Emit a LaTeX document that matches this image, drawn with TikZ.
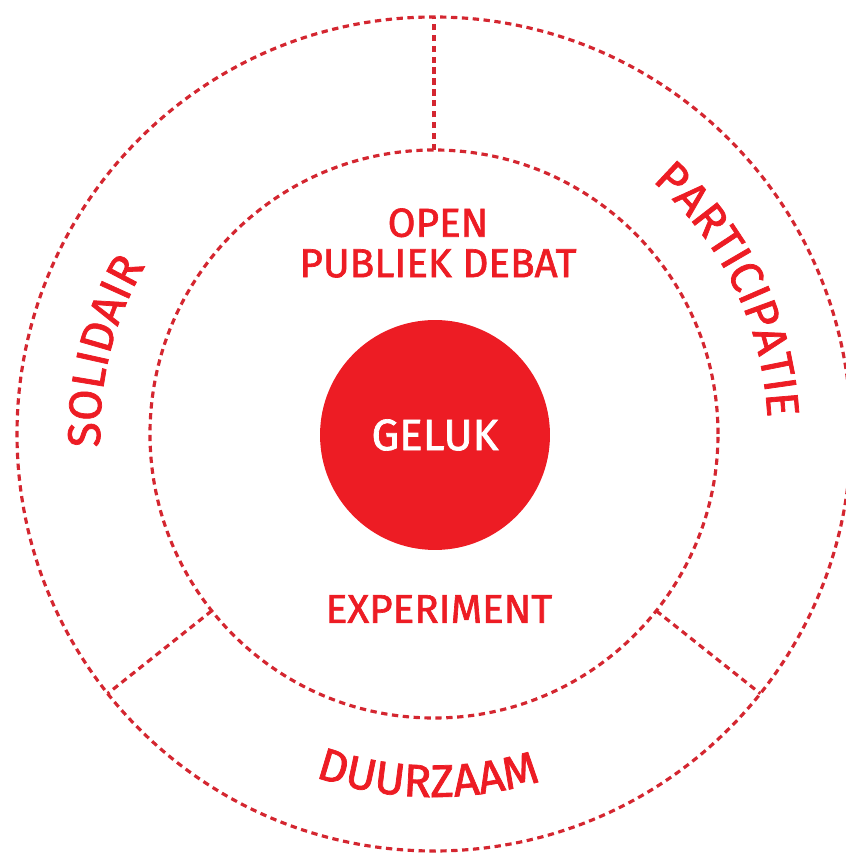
\documentclass[tikz,border=0pt]{standalone}
\usepackage{fontspec}
\setmainfont{Fira Sans}[FakeBold=1.6]
\usetikzlibrary{decorations.text}
\definecolor{gelukred}{RGB}{237,28,36}
\definecolor{lijnred}{RGB}{212,38,48}
\newcommand\ringfont{\fontsize{26}{26}\selectfont\color{gelukred}}
\tikzset{
	ring/.style={line width=1.8pt, color=lijnred, dash pattern=on 3.6pt off 2.6pt},
	midtext/.style={text=gelukred, font=\fontsize{23}{23}\selectfont, align=center},
	geluk/.style={circle, fill=gelukred, minimum size=4.6cm, inner sep=0pt, text=white, font=\fontsize{25}{25}\selectfont},
}

\begin{document}
\begin{tikzpicture}[x=0.02cm, y=0.02cm]
		%%%%% START %%%%%
		\useasboundingbox (-434,-420) rectangle (411,434);
		
		\draw[ring] (0,0) circle[radius=417];
		\draw[ring] (0,0) circle[radius=284];
		
		\draw[ring] (90:284) -- (90:417);
		\draw[ring] (218.5:284) -- (218.5:417);
		\draw[ring] (321.5:284) -- (321.5:417);
		
		\node[geluk] (geluk) at (1,-1) {GELUK};
		\node[midtext] (debat) at (4,191) {OPEN\\PUBLIEK DEBAT};
		\node[midtext] (experiment) at (5,-175) {EXPERIMENT};
		
		\path[decorate, decoration={text along path, text align=center, text={|\ringfont|SOLIDAIR}}]
			(200:334) arc[start angle=200, end angle=132, radius=334];
		\path[decorate, decoration={text along path, text align=center, text={|\ringfont|PARTICIPATIE}}]
			(72:334) arc[start angle=72, end angle=-20, radius=334];
		\path[decorate, decoration={text along path, text align=center, text={|\ringfont|DUURZAAM}}]
			(229:363) arc[start angle=229, end angle=309, radius=363];
		
		%%%%% END %%%%%
\end{tikzpicture}
\end{document}
